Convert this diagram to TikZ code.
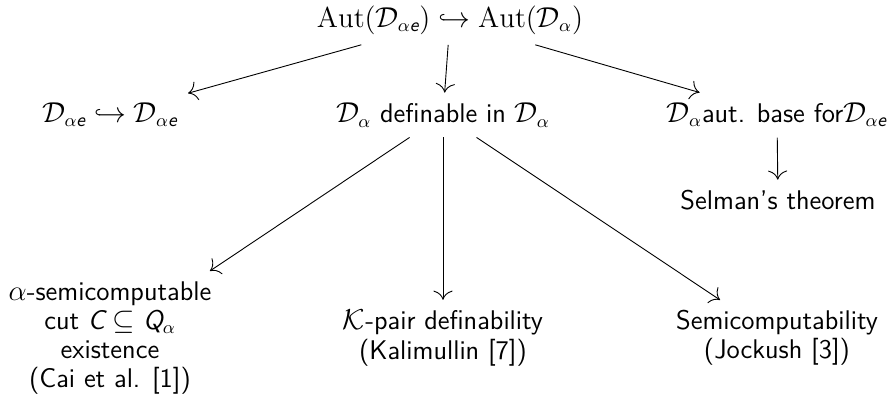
\documentclass[tikz,border=0pt]{standalone}
\usepackage{amsmath}
\usepackage{tikz}
\usetikzlibrary{arrows.meta}
\renewcommand{\familydefault}{\sfdefault}
% sans italic letters in math, as on the slides
\newcommand{\sit}[1]{\text{\itshape #1}}
\newcommand{\Dae}{\mathcal{D}_{\alpha\sit{e}}}
\newcommand{\Da}{\mathcal{D}_{\alpha}}
\tikzset{
  fact/.style ={align=center, inner sep=5pt, font=\fontsize{13.5}{14.6}\selectfont},
  leads/.style={-{To[length=1.6mm]}, line width=0.45pt},
}

\begin{document}
\begin{tikzpicture}[x=0.5pt, y=-0.5pt]
  \useasboundingbox (0,0) rectangle (891,404);
  % top
  \node[fact] (aut)  at (450, 20)  {$\mathrm{Aut}(\Dae)\hookrightarrow\mathrm{Aut}(\Da)$};
  % second row
  \node[fact] (emb)  at (110, 115) {$\Dae\hookrightarrow\Dae$};
  \node[fact] (def)  at (443, 115) {$\Da$ definable in $\Da$};
  \node[fact] (base) at (777, 115) {$\Da$aut. base for$\Dae$};
  \node[fact] (sel)  at (778, 200) {Selman's theorem};
  % bottom row
  \node[fact] (cut)  at (110, 338) {$\alpha$-semicomputable\\ cut $\sit{C}\subseteq\sit{Q}_\alpha$\\ existence\\ (Cai et al. [1])};
  \node[fact] (kp)   at (443, 338) {$\mathcal{K}$-pair definability\\ (Kalimullin [7])};
  \node[fact] (semi) at (777, 338) {Semicomputability\\ (Jockush [3])};
  % arrows
  \draw[leads] (aut) -- (emb);
  \draw[leads] (aut) -- (def);
  \draw[leads] (aut) -- (base);
  \draw[leads] (base) -- (sel);
  \draw[leads] (def) -- (cut);
  \draw[leads] (def) -- (kp);
  \draw[leads] (def) -- (semi);
\end{tikzpicture}
\end{document}
